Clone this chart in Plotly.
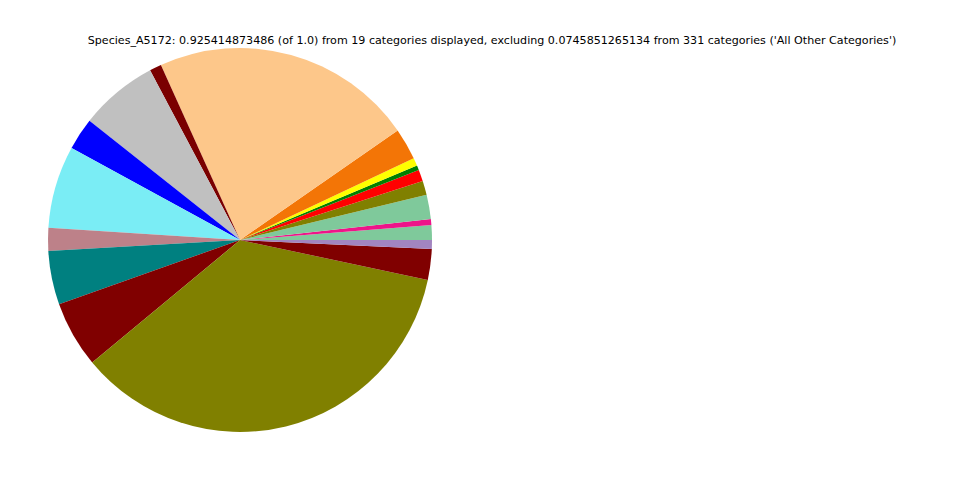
import plotly.graph_objects as go

title_text = ("Species_A5172: 0.925414873486 (of 1.0) from 19 categories displayed, "
              "excluding 0.0745851265134 from 331 categories ('All Other Categories')")

categories = [f"Category_{i+1}" for i in range(19)]
values = [0.01157, 0.00463, 0.01877, 0.01105, 0.00900, 0.00360, 0.00617, 0.02468,
          0.20436, 0.00925, 0.06092, 0.02493, 0.06427, 0.01774, 0.04190, 0.05167,
          0.32981, 0.02391, 0.00694]
colors = ["#7fc99b", "#ee1489", "#7fc99b", "#808000", "#ff0000", "#008000", "#ffff00",
          "#f37506", "#fdc78a", "#7a0000", "#c0c0c0", "#0000ff", "#7aedf5", "#bd8189",
          "#008080", "#800000", "#808000", "#800000", "#a285c0"]

# Plotly's counterclockwise pie places the first slice clockwise of `rotation`;
# offset so the first slice starts exactly at 3 o'clock.
first_angle = values[0] / sum(values) * 360.0

W, H = 960, 480
OFF = 8  # page body margin offset
fig = go.Figure(go.Pie(
    labels=categories,
    values=values,
    marker=dict(colors=colors, line=dict(width=0)),
    sort=False,
    direction="counterclockwise",
    rotation=90 - first_angle,
    textinfo="none",
    showlegend=False,
    domain=dict(x=[(48 - OFF) / W, (432 - OFF) / W],
                y=[1 - (432 - OFF) / H, 1 - (48 - OFF) / H]),
))

fig.update_layout(
    width=W, height=H,
    margin=dict(l=0, r=0, t=0, b=0),
    paper_bgcolor="white",
    plot_bgcolor="white",
    title=dict(text=title_text, x=(492 - OFF) / W, xanchor="center",
               y=1 - (40 - OFF) / H, yanchor="middle",
               font=dict(family="DejaVu Sans", size=11.1, color="black")),
)

fig.write_html("out.html")
